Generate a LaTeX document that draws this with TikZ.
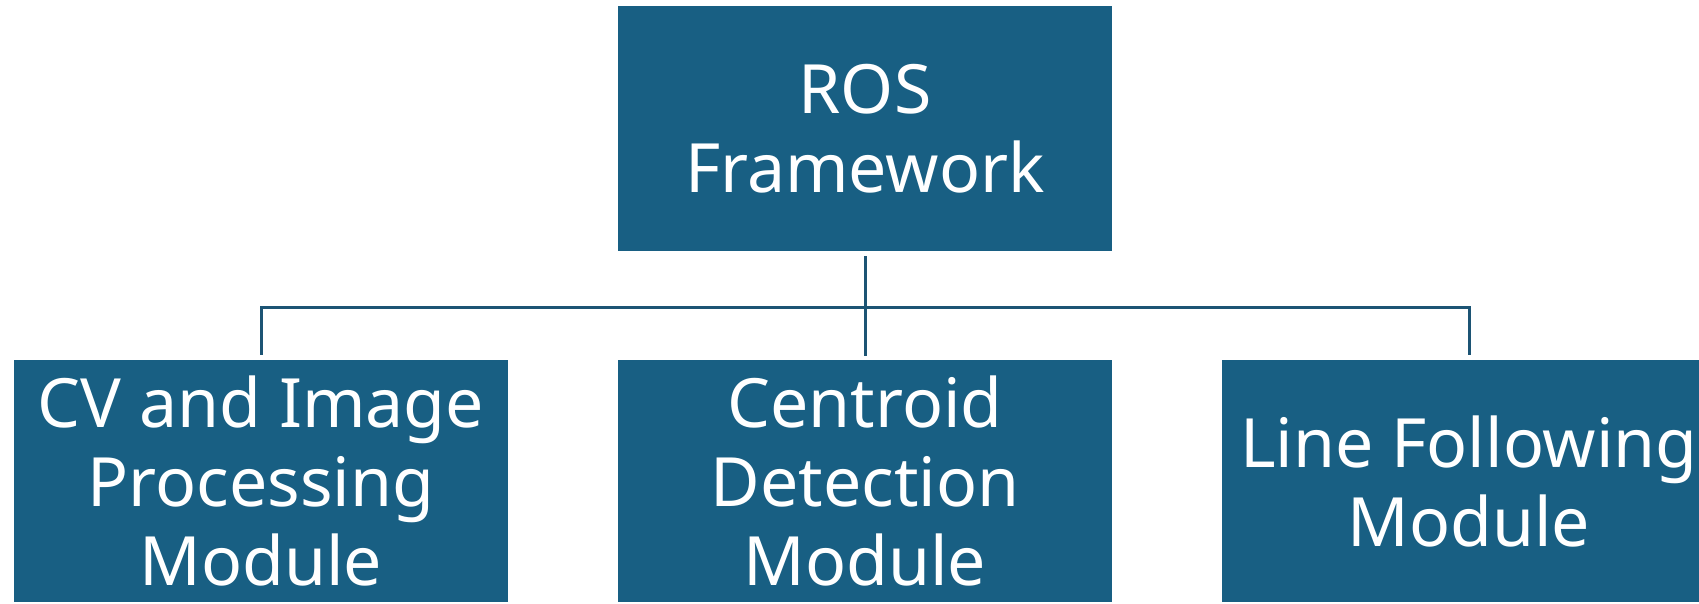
\documentclass[tikz,border=0pt]{standalone}
\usepackage{fontspec}
\setmainfont{Noto Sans}
\definecolor{boxblue}{HTML}{185F83}
\definecolor{linkblue}{HTML}{1C5474}
\begin{document}
\begin{tikzpicture}[x=1pt,y=1pt,
  block/.style={fill=boxblue, draw=none, text=white, align=center, inner sep=0pt,
    minimum width=494, minimum height=#1, font=\fontsize{68}{79}\selectfont},
  link/.style={draw=linkblue, line width=3pt}]
  \useasboundingbox (0,0) rectangle (1699,603);
  \clip (0,0) rectangle (1699,603);
  \node[block=245] (ros) at (865,474.5) {ROS\\Framework};
  \node[block=242] (cv) at (261,122) {CV and Image\\Processing\\Module};
  \node[block=242] (cd) at (865,122) {Centroid\\Detection\\Module};
  \node[block=242] (lf) at (1469,122) {Line Following\\Module};
  \coordinate (bus) at (865,295);
  \draw[link] ([yshift=-5]ros.south) -- ([yshift=4]cd.north);
  \draw[link] ([yshift=5]cv.north) -- (cv.north |- bus) -- (lf.north |- bus) -- ([yshift=5]lf.north);
\end{tikzpicture}
\end{document}
